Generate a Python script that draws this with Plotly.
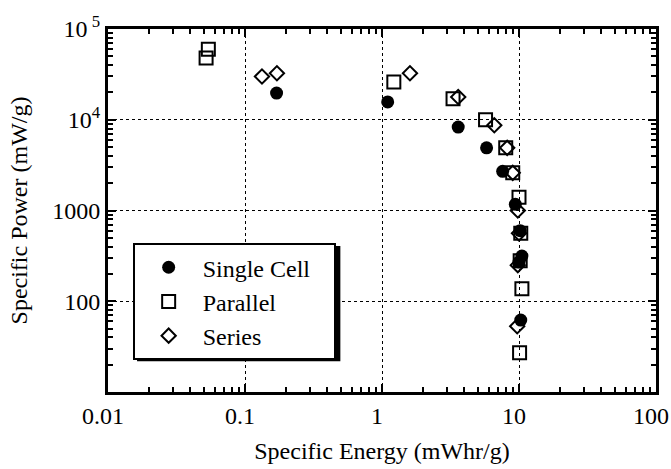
import plotly.graph_objects as go

# Data
single_x = [0.17, 1.1, 3.6, 5.8, 7.6, 9.4, 10.2, 10.5, 10.0, 10.3]
single_y = [19700, 15700, 8300, 4900, 2700, 1170, 600, 315, 270, 62]

parallel_x = [0.052, 0.054, 1.22, 3.3, 5.7, 8.0, 9.0, 10.0, 10.3, 10.2, 10.5, 10.1]
parallel_y = [48000, 60000, 26000, 17000, 10000, 4900, 2600, 1400, 560, 280, 137, 27]

series_x = [0.133, 0.171, 1.6, 3.6, 6.6, 8.2, 9.0, 9.8, 10.0, 9.8, 9.7]
series_y = [30000, 32500, 32500, 17800, 8700, 4900, 2600, 1000, 560, 250, 53]

series_names = ["Single Cell", "Parallel", "Series"]

x_tickvals = [0.01, 0.1, 1, 10, 100]
x_ticktext = ["0.01", "0.1", "1", "10", "100"]
y_tickvals = [100000, 10000, 1000, 100]
y_ticktext = ["10<sup> 5</sup>", "10<sup>4</sup>", "1000", "100"]

x_minor = [m * 10.0 ** e for e in range(-2, 2) for m in range(2, 10)]
y_minor = [m * 10.0 ** e for e in range(1, 5) for m in range(2, 10)]

FONT = "Liberation Serif"
PAD = "\u00a0\u00a0\u00a0"  # right padding inside the legend box

fig = go.Figure()
fig.add_trace(go.Scatter(
    x=single_x, y=single_y, mode="markers", name=series_names[0] + PAD,
    marker=dict(symbol="circle", size=13, color="black", line=dict(width=0))))
fig.add_trace(go.Scatter(
    x=parallel_x, y=parallel_y, mode="markers", name=series_names[1],
    marker=dict(symbol="square-open", size=13, color="black", line=dict(width=2))))
fig.add_trace(go.Scatter(
    x=series_x, y=series_y, mode="markers", name=series_names[2],
    marker=dict(symbol="diamond-open", size=11, color="black", line=dict(width=2))))

axis_common = dict(
    type="log", showline=True, linecolor="black", linewidth=3, mirror="allticks",
    ticks="inside", ticklen=8, tickwidth=2, tickcolor="black",
    showgrid=True, gridcolor="black", gridwidth=1, griddash="dot",
    zeroline=False, ticklabeloverflow="allow", automargin=False,
    tickfont=dict(family=FONT, size=24, color="black"),
)

fig.update_xaxes(
    **axis_common, range=[-2, 2], tickmode="array",
    tickvals=x_tickvals, ticktext=x_ticktext, ticklabelshift=-5,
    minor=dict(tickmode="array", tickvals=x_minor, ticks="inside", ticklen=5,
               tickwidth=2, tickcolor="black", showgrid=False),
    title=dict(text="Specific Energy (mWhr/g)", font=dict(family=FONT, size=24, color="black"), standoff=15),
)
fig.update_yaxes(
    **axis_common, range=[1, 5], tickmode="array",
    tickvals=y_tickvals, ticktext=y_ticktext,
    minor=dict(tickmode="array", tickvals=y_minor, ticks="inside", ticklen=5,
               tickwidth=2, tickcolor="black", showgrid=False),
    title=dict(text="Specific Power (mW/g)", font=dict(family=FONT, size=24, color="black"), standoff=18),
)

# Legend drop shadow (decoration, paper coordinates)
fig.add_shape(type="rect", xref="paper", yref="paper",
              x0=0.053, x1=0.424, y0=0.085, y1=0.402,
              fillcolor="black", line=dict(width=0), layer="below")

fig.update_layout(
    width=671, height=469,
    margin=dict(l=108, r=15, t=29, b=77),
    paper_bgcolor="white", plot_bgcolor="white",
    font=dict(family=FONT, size=24, color="black"),
    showlegend=True,
    legend=dict(x=0.045, y=0.41, xanchor="left", yanchor="top",
                bgcolor="white", bordercolor="black", borderwidth=2,
                font=dict(family=FONT, size=24, color="black"),
                itemwidth=58, tracegroupgap=0),
)

fig.write_html("out.html")
